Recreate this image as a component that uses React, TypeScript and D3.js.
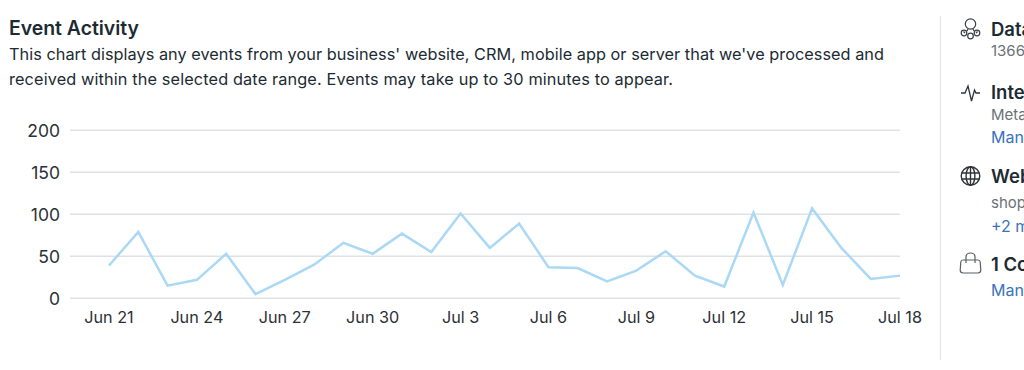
import React from "react";
import * as d3 from "d3";

const title = "Event Activity";
const descriptionLines = [
  "This chart displays any events from your business' website, CRM, mobile app or server that we've processed and",
  "received within the selected date range. Events may take up to 30 minutes to appear.",
];
const descriptionWidths = [875, 664];
const days = [
  "Jun 21", "Jun 22", "Jun 23", "Jun 24", "Jun 25", "Jun 26", "Jun 27",
  "Jun 28", "Jun 29", "Jun 30", "Jul 1", "Jul 2", "Jul 3", "Jul 4",
  "Jul 5", "Jul 6", "Jul 7", "Jul 8", "Jul 9", "Jul 10", "Jul 11",
  "Jul 12", "Jul 13", "Jul 14", "Jul 15", "Jul 16", "Jul 17", "Jul 18",
];
const events = [39, 79, 15, 22, 53, 5, 22, 40, 66, 53, 77, 55, 101, 60, 89, 37, 36, 20, 33, 56, 27, 14, 102, 16, 107, 60, 23, 27];
const yTicks = [0, 50, 100, 150, 200];
const xTicks = ["Jun 21", "Jun 24", "Jun 27", "Jun 30", "Jul 3", "Jul 6", "Jul 9", "Jul 12", "Jul 15", "Jul 18"];

const sideHeadings = [
  { text: "Data", y: 36 },
  { text: "Inte", y: 99 },
  { text: "Web", y: 183 },
  { text: "1 Co", y: 271 },
];
const sideDetails = [
  { text: "1366", y: 56, link: false },
  { text: "Meta", y: 120, link: false },
  { text: "Man", y: 143, link: true },
  { text: "shop", y: 208, link: false },
  { text: "+2 m", y: 232, link: true },
  { text: "Man", y: 296, link: true },
];

const FONT = "Inter, 'Noto Sans', sans-serif";
const INK = "#1c2b33";
const TICK = "#2b3135";
const GREY = "#6b7278";
const LINK = "#3a72bd";
const GRID = "#dfe1e4";

export default function App() {
  const x = d3.scalePoint<string>().domain(days).range([109, 900]);
  const y = d3.scaleLinear().domain([0, 200]).range([298.3, 130.3]);
  const line = d3
    .line<number>()
    .x((_, i) => x(days[i]) as number)
    .y((d) => y(d));

  return (
    <svg
      width={1024}
      height={370}
      viewBox="0 0 1024 370"
      style={{ position: "fixed", left: 0, top: 0, background: "#fff", fontFamily: FONT }}
    >
      <text x={9} y={35} fontSize={19.4} fontWeight={600} fill={INK}>{title}</text>
      {descriptionLines.map((t, i) => (
        <text key={i} x={9} y={60 + i * 25} fontSize={16.3} textLength={descriptionWidths[i]} lengthAdjust="spacing" fill={INK}>{t}</text>
      ))}

      {yTicks.map((t) => (
        <g key={t}>
          <line x1={70} x2={900} y1={y(t)} y2={y(t)} stroke={GRID} strokeWidth={1.4} />
          <text x={60} y={y(t) + 7} textAnchor="end" fontSize={17.5} fill={TICK}>{t}</text>
        </g>
      ))}
      {xTicks.map((t) => (
        <text key={t} x={x(t) as number} y={323} textAnchor="middle" fontSize={16.2} fill={TICK}>{t}</text>
      ))}
      <path d={line(events) ?? ""} fill="none" stroke="#aad8f5" strokeWidth={2.5} strokeLinejoin="miter" />

      <line x1={940.5} x2={940.5} y1={16} y2={360} stroke="#e3e5ea" strokeWidth={1.2} />

      {/* data-source icon */}
      <g fill="none" stroke="#3b4146" strokeWidth={1.2}>
        <circle cx={970.5} cy={24} r={5.2} />
        <path d="M965 33 l-1.5 -1.5 M976 33 l1.5 -1.5 M968 29 l-1 2 M973 29 l1 2" />
        <circle cx={964} cy={33} r={2.8} />
        <circle cx={970.5} cy={36} r={2.8} />
        <circle cx={977} cy={33} r={2.8} />
      </g>
      {/* activity icon */}
      <path d="M961 93 h4 l3 -7 l3.5 15 l3 -11 l1.5 3 h4" fill="none" stroke="#2f3437" strokeWidth={1.3} />
      {/* globe icon */}
      <g fill="none" stroke="#2f3437" strokeWidth={1.4}>
        <circle cx={970.5} cy={176} r={9.3} />
        <ellipse cx={970.5} cy={176} rx={4.4} ry={9.3} />
        <path d="M970.5 166.7 v18.6 M961.5 173 h18 M961.5 179 h18" />
      </g>
      {/* shop icon */}
      <g fill="none" stroke="#5a6065" strokeWidth={1.2}>
        <path d="M963 260 h15 q2 0 2.2 2 l0.6 8 q0 3 -3 3 h-14.6 q-3 0 -3 -3 l0.6 -8 q0.2 -2 2.2 -2 Z" />
        <path d="M966 263 v-6 q0 -4 4.5 -4 q4.5 0 4.5 4 v6" />
      </g>

      {sideHeadings.map((h) => (
        <text key={h.y} x={991} y={h.y} fontSize={18.5} fontWeight={600} fill={INK}>{h.text}</text>
      ))}
      {sideDetails.map((d) => (
        <text key={d.y} x={991} y={d.y} fontSize={d.link ? 16 : 15} fill={d.link ? LINK : GREY}>{d.text}</text>
      ))}
    </svg>
  );
}
